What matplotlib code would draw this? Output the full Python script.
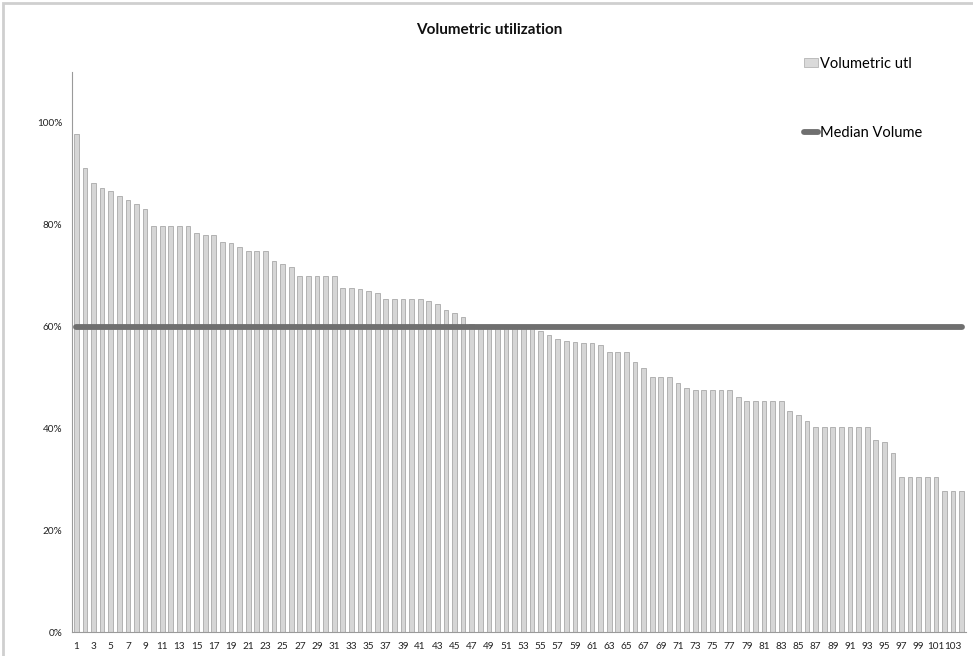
import matplotlib
matplotlib.use("Agg")
import matplotlib.pyplot as plt
from matplotlib.lines import Line2D
from matplotlib.patches import Patch, Rectangle
from matplotlib.ticker import PercentFormatter

plt.rcParams['font.family'] = ['Lato', 'DejaVu Sans']

categories = list(range(1, 105))
volumetric_utl = [
    97.8, 91.1, 88.1, 87.3, 86.6, 85.7, 84.9, 84.1, 83.1, 79.8,
    79.8, 79.8, 79.8, 79.8, 78.3, 77.9, 77.9, 76.7, 76.4, 75.6,
    74.8, 74.8, 74.8, 72.9, 72.3, 71.6, 70.0, 70.0, 70.0, 70.0,
    70.0, 67.6, 67.6, 67.4, 66.9, 66.6, 65.5, 65.5, 65.5, 65.5,
    65.5, 65.0, 64.4, 63.2, 62.6, 61.8, 60.5, 60.0, 60.0, 60.0,
    60.0, 60.0, 60.0, 60.0, 59.1, 58.4, 57.5, 57.2, 57.0, 56.7,
    56.7, 56.4, 55.0, 55.0, 55.0, 53.0, 51.9, 50.0, 50.0, 50.0,
    49.0, 47.9, 47.6, 47.6, 47.6, 47.6, 47.6, 46.2, 45.3, 45.3,
    45.3, 45.3, 45.3, 43.4, 42.6, 41.5, 40.3, 40.3, 40.3, 40.3,
    40.3, 40.3, 40.3, 37.8, 37.3, 35.2, 30.4, 30.4, 30.4, 30.4,
    30.4, 27.6, 27.6, 27.6,
]
median_volume = [60.0] * len(categories)
x_tick_labels = [str(c) for c in categories[::2]]

fig = plt.figure(figsize=(9.73, 6.56), dpi=100)
ax = fig.add_axes([72/973, 1 - 632/656, (966 - 72)/973, (632 - 72)/656])

ax.bar(categories, volumetric_utl, width=0.55, color='#d6d6d6',
       edgecolor='#a9a9a9', linewidth=0.6, zorder=2)
ax.plot(categories, median_volume, color='#6f6f6f', linewidth=4.2,
        solid_capstyle='round', zorder=3)

ax.set_xlim(0.5, 104.5)
ax.set_ylim(0, 110)
ax.set_yticks([0, 20, 40, 60, 80, 100])
ax.yaxis.set_major_formatter(PercentFormatter(decimals=0))
ax.set_xticks(categories[::2])
ax.set_xticklabels(x_tick_labels)
ax.tick_params(axis='both', length=0, labelsize=7.2, colors='#222222')
ax.tick_params(axis='y', pad=7)
ax.tick_params(axis='x', pad=7)
for side in ['top', 'right']:
    ax.spines[side].set_visible(False)
for side in ['left', 'bottom']:
    ax.spines[side].set_color('#9a9a9a')
    ax.spines[side].set_linewidth(0.8)

fig.text(489/973, 1 - 30/656, 'Volumetric utilization', ha='center', va='center',
         fontsize=11, fontweight='bold', color='#111111')

handles = [Patch(facecolor='#dadada', edgecolor='#b5b5b5', linewidth=0.6),
           Line2D([0], [0], color='#6f6f6f', linewidth=4.2, solid_capstyle='round')]
fig.legend(handles, ['Volumetric utl', 'Median Volume'], loc='upper left',
           bbox_to_anchor=(798/973, 1 - 51/656), frameon=False, fontsize=10.5,
           labelspacing=3.75, handlelength=1.0, handleheight=0.6,
           handletextpad=0.1, borderaxespad=0)

fig.patches.append(Rectangle((3/973, -0.1), 1.2, 1 - 3/656 + 0.1, transform=fig.transFigure,
                             fill=False, edgecolor='#cfcfcf', linewidth=2))

fig.savefig('out.png', dpi=100)
